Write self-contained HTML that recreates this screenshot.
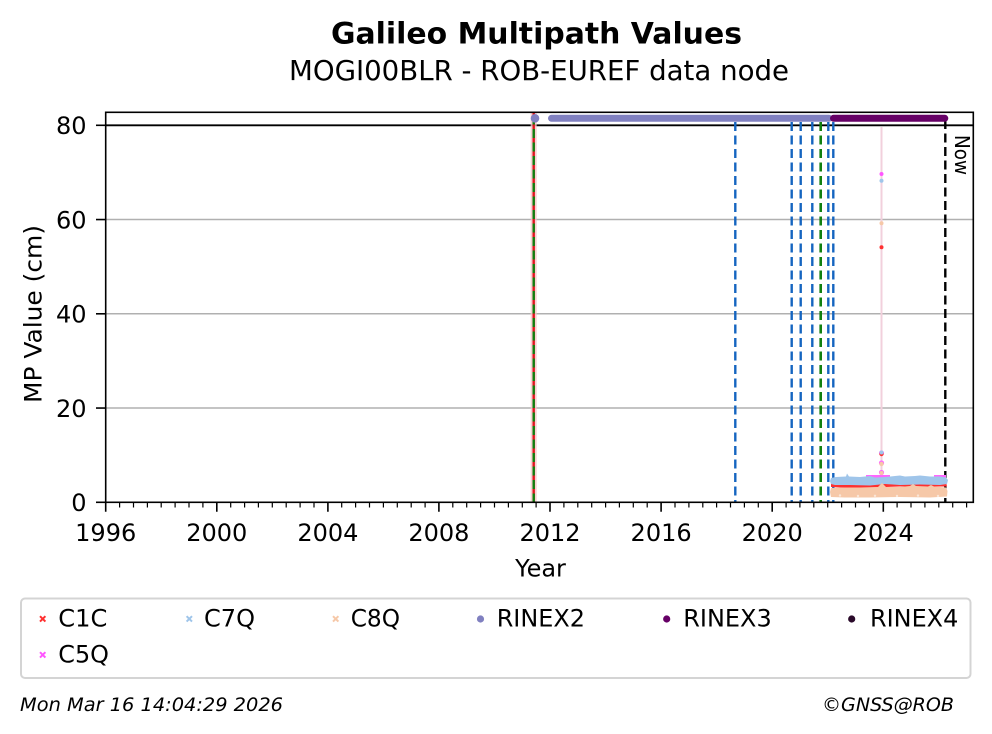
<!DOCTYPE html>
<html>
<head>
<meta charset="utf-8">
<style>
html,body{margin:0;padding:0;background:#fff;}
svg{display:block;}
text{font-family:"DejaVu Sans","Liberation Sans",sans-serif;fill:#000;}
</style>
</head>
<body>
<svg width="992" height="734" viewBox="0 0 992 734" xmlns="http://www.w3.org/2000/svg">
<rect x="0" y="0" width="992" height="734" fill="#fff"/>

<!-- Titles -->
<text x="331" y="43.3" font-size="29" font-weight="bold" textLength="411" lengthAdjust="spacingAndGlyphs">Galileo Multipath Values</text>
<text x="289" y="80" font-size="27.5" textLength="500" lengthAdjust="spacingAndGlyphs">MOGI00BLR - ROB-EUREF data node</text>

<!-- Grid lines -->
<g stroke="#b0b0b0" stroke-width="1.5">
  <line x1="106" y1="408.05" x2="973" y2="408.05"/>
  <line x1="106" y1="313.8" x2="973" y2="313.8"/>
  <line x1="106" y1="219.55" x2="973" y2="219.55"/>
</g>
<!-- 80 line -->
<line x1="106" y1="125.3" x2="973" y2="125.3" stroke="#000" stroke-width="1.8"/>

<!-- Vertical line at 2011.4 (red/green) -->
<line x1="533.7" y1="112.5" x2="533.7" y2="502" stroke="#f7c6c6" stroke-width="6" opacity="0.8"/>
<line x1="533.7" y1="112.5" x2="533.7" y2="502" stroke="#e0141e" stroke-width="2.4"/>
<line x1="533.7" y1="112.5" x2="533.7" y2="502" stroke="#108010" stroke-width="2.4" stroke-dasharray="9 4.5" stroke-dashoffset="-3"/>

<!-- Blue dashed lines -->
<g stroke="#1565c0" stroke-width="2.4" stroke-dasharray="9 4.5">
  <line x1="735.3" y1="122" x2="735.3" y2="502"/>
  <line x1="791.7" y1="122" x2="791.7" y2="502"/>
  <line x1="800.7" y1="122" x2="800.7" y2="502"/>
  <line x1="812.3" y1="122" x2="812.3" y2="502"/>
  <line x1="828.3" y1="122" x2="828.3" y2="502"/>
  <line x1="833.3" y1="122" x2="833.3" y2="502"/>
</g>
<!-- Green dashed -->
<line x1="820.7" y1="122" x2="820.7" y2="502" stroke="#108010" stroke-width="2.6" stroke-dasharray="9 4.5"/>
<!-- Now line -->
<line x1="945.3" y1="120" x2="945.3" y2="502" stroke="#000" stroke-width="2.4" stroke-dasharray="9 4.5"/>
<text transform="translate(955,135) rotate(90)" font-size="20" textLength="40" lengthAdjust="spacingAndGlyphs">Now</text>

<!-- Pink spike line -->
<line x1="881.5" y1="127" x2="881.5" y2="487" stroke="#f2d0dc" stroke-width="2"/>

<!-- RINEX bars -->
<circle cx="535" cy="118.3" r="4.3" fill="#8080c0"/>
<line x1="551.5" y1="118.3" x2="829" y2="118.3" stroke="#8080c0" stroke-width="7" stroke-linecap="round"/>
<line x1="833.5" y1="118.3" x2="944.8" y2="118.3" stroke="#660066" stroke-width="7" stroke-linecap="round"/>

<!-- Data bands -->
<!-- C1C red -->
<path d="M831,481 L900,481 L946,481.5 L947,486.5 L900,486.5 L870,487.5 L840,487.5 L831,487 Z" fill="#ff3030"/>
<!-- C5Q magenta accents -->
<rect x="866" y="475" width="24" height="3" fill="#ff66ff"/>
<rect x="934" y="475" width="12" height="3" fill="#ff66ff"/>
<!-- C7Q blue -->
<path d="M831,478 L836,477 L846,476.5 L847,473.5 L849,476.5 L860,477 L870,476 L875,477.5 L885,477 L895,476 L900,475.5 L905,476.5 L915,476 L920,475.5 L930,476.5 L940,476.5 L946,477.5 L948,480 L947,484 L940,485 L920,484.5 L900,485 L885,484 L870,485.5 L850,485 L835,485 L831,484 L830,481 Z" fill="#9fc5ea"/>
<!-- C8Q peach -->
<path d="M831,488 L845,487.5 L860,487.5 L878,487 L882,483 L886,487 L900,487 L910,486 L913,484 L916,486 L928,486.5 L931,485 L934,486.5 L946,487.5 L947.5,491 L947,496.5 L930,497.5 L900,497 L870,497.5 L845,497.5 L831,497 L830,492 Z" fill="#f6c8a8"/>
<!-- slight texture -->
<g fill="#fff" opacity="0.55">
  <circle cx="840" cy="495.5" r="1.2"/><circle cx="858" cy="496" r="1.2"/><circle cx="875" cy="495.8" r="1.2"/>
  <circle cx="897" cy="496" r="1.2"/><circle cx="918" cy="495.6" r="1.2"/><circle cx="938" cy="496" r="1.2"/>
</g>

<!-- Spike points -->
<g>
  <circle cx="881.5" cy="174" r="2" fill="#ff55ff"/>
  <circle cx="881.5" cy="180.7" r="2" fill="#9fc5ea"/>
  <circle cx="881.5" cy="223.3" r="2" fill="#f6c8a8"/>
  <circle cx="881.5" cy="247.3" r="2" fill="#ff3030"/>
  <circle cx="881.5" cy="453" r="2.5" fill="#ff55ff"/>
  <circle cx="881.5" cy="454" r="2.2" fill="#ff3030"/>
  <circle cx="881.5" cy="452.5" r="2" fill="#9fc5ea"/>
  <circle cx="881.5" cy="463" r="2.6" fill="#ff66ff"/>
  <circle cx="881.5" cy="464" r="2.2" fill="#f6c8a8"/>
  <circle cx="881.5" cy="472.5" r="2.6" fill="#ff66ff"/>
  <circle cx="881.5" cy="473" r="2" fill="#f6c8a8"/>
</g>

<!-- Axes frame -->
<rect x="105.7" y="112.3" width="867.6" height="390" fill="none" stroke="#000" stroke-width="1.6"/>

<!-- Y ticks -->
<g stroke="#000" stroke-width="1.6">
  <line x1="96" y1="502.3" x2="105.7" y2="502.3"/>
  <line x1="96" y1="408.05" x2="105.7" y2="408.05"/>
  <line x1="96" y1="313.8" x2="105.7" y2="313.8"/>
  <line x1="96" y1="219.55" x2="105.7" y2="219.55"/>
  <line x1="96" y1="125.3" x2="105.7" y2="125.3"/>
</g>
<g font-size="24" text-anchor="end">
  <text x="86.5" y="511">0</text>
  <text x="86.5" y="416.8">20</text>
  <text x="86.5" y="322.5">40</text>
  <text x="86.5" y="228.3">60</text>
  <text x="86.5" y="134">80</text>
</g>
<text transform="translate(41.5,314) rotate(-90)" font-size="24" text-anchor="middle" textLength="178" lengthAdjust="spacingAndGlyphs">MP Value (cm)</text>

<!-- X ticks -->
<path stroke="#000" stroke-width="1.2" fill="none" d="
M119.6,502.3v5.2 M133.5,502.3v5.2 M147.4,502.3v5.2 M161.2,502.3v5.2 M175.1,502.3v5.2 M189.0,502.3v5.2 M202.9,502.3v5.2
M230.7,502.3v5.2 M244.6,502.3v5.2 M258.4,502.3v5.2 M272.3,502.3v5.2 M286.2,502.3v5.2 M300.1,502.3v5.2 M314.0,502.3v5.2
M341.7,502.3v5.2 M355.6,502.3v5.2 M369.5,502.3v5.2 M383.4,502.3v5.2 M397.3,502.3v5.2 M411.2,502.3v5.2 M425.1,502.3v5.2
M452.8,502.3v5.2 M466.7,502.3v5.2 M480.6,502.3v5.2 M494.5,502.3v5.2 M508.4,502.3v5.2 M522.3,502.3v5.2 M536.1,502.3v5.2
M563.9,502.3v5.2 M577.8,502.3v5.2 M591.7,502.3v5.2 M605.6,502.3v5.2 M619.4,502.3v5.2 M633.3,502.3v5.2 M647.2,502.3v5.2
M675.0,502.3v5.2 M688.9,502.3v5.2 M702.8,502.3v5.2 M716.6,502.3v5.2 M730.5,502.3v5.2 M744.4,502.3v5.2 M758.3,502.3v5.2
M786.1,502.3v5.2 M799.9,502.3v5.2 M813.8,502.3v5.2 M827.7,502.3v5.2 M841.6,502.3v5.2 M855.5,502.3v5.2 M869.4,502.3v5.2
M897.1,502.3v5.2 M911.0,502.3v5.2 M924.9,502.3v5.2 M938.8,502.3v5.2 M952.7,502.3v5.2 M966.6,502.3v5.2"/>
<path stroke="#000" stroke-width="1.6" fill="none" d="
M105.7,502.3v9.5 M216.8,502.3v9.5 M327.9,502.3v9.5 M438.9,502.3v9.5 M550.0,502.3v9.5 M661.1,502.3v9.5 M772.2,502.3v9.5 M883.3,502.3v9.5"/>
<g font-size="24" text-anchor="middle">
  <text x="105.7" y="541">1996</text>
  <text x="216.8" y="541">2000</text>
  <text x="327.9" y="541">2004</text>
  <text x="438.9" y="541">2008</text>
  <text x="550.0" y="541">2012</text>
  <text x="661.1" y="541">2016</text>
  <text x="772.2" y="541">2020</text>
  <text x="883.3" y="541">2024</text>
</g>
<text x="540.5" y="576.7" font-size="24" text-anchor="middle">Year</text>

<!-- Legend -->
<rect x="21" y="598.5" width="949.5" height="79.5" rx="4" ry="4" fill="#fff" stroke="#d4d4d4" stroke-width="2"/>
<g stroke-width="2" stroke-linecap="butt">
  <path d="M40,616.2 L45.4,621.6 M45.4,616.2 L40,621.6" stroke="#ff3030"/>
  <path d="M186.6,616.2 L192,621.6 M192,616.2 L186.6,621.6" stroke="#9fc5ea"/>
  <path d="M333,616.2 L338.4,621.6 M338.4,616.2 L333,621.6" stroke="#f6c8a8"/>
  <path d="M40,652.2 L45.4,657.6 M45.4,652.2 L40,657.6" stroke="#ff55ff"/>
</g>
<circle cx="480.5" cy="619" r="3.6" fill="#8080c0"/>
<circle cx="666.7" cy="619" r="3.6" fill="#660066"/>
<circle cx="851.7" cy="619" r="3.6" fill="#2a0a2a"/>
<g font-size="24">
  <text x="58.3" y="626.7" textLength="49" lengthAdjust="spacingAndGlyphs">C1C</text>
  <text x="204" y="626.7" textLength="51" lengthAdjust="spacingAndGlyphs">C7Q</text>
  <text x="350.7" y="626.7" textLength="49.3" lengthAdjust="spacingAndGlyphs">C8Q</text>
  <text x="496.7" y="626.7" textLength="88.3" lengthAdjust="spacingAndGlyphs">RINEX2</text>
  <text x="683.3" y="626.7" textLength="88.4" lengthAdjust="spacingAndGlyphs">RINEX3</text>
  <text x="870" y="626.7" textLength="88.3" lengthAdjust="spacingAndGlyphs">RINEX4</text>
  <text x="58.3" y="662.7" textLength="50.7" lengthAdjust="spacingAndGlyphs">C5Q</text>
</g>

<!-- Footer -->
<text x="20" y="711" font-size="18.5" font-style="italic" textLength="263" lengthAdjust="spacingAndGlyphs">Mon Mar 16 14:04:29 2026</text>
<text x="822" y="711" font-size="18.5" font-style="italic" textLength="132" lengthAdjust="spacingAndGlyphs">©GNSS@ROB</text>
</svg>
</body>
</html>
